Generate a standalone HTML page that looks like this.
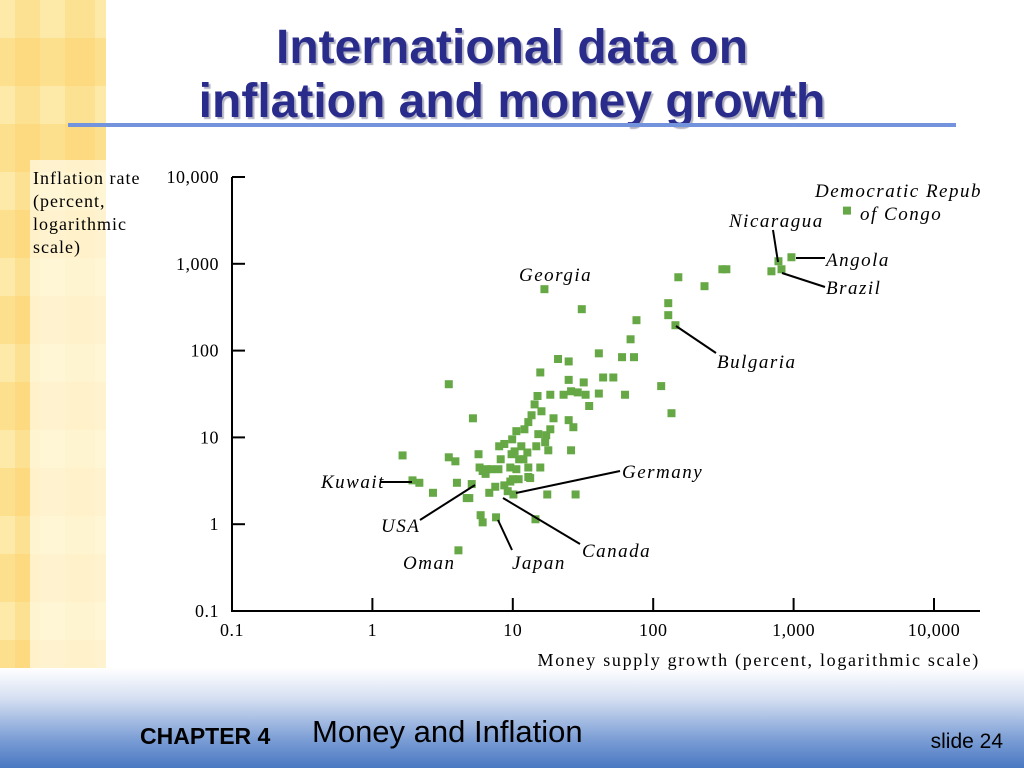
<!DOCTYPE html>
<html><head><meta charset="utf-8">
<style>
html,body{margin:0;padding:0;}
body{width:1024px;height:768px;position:relative;overflow:hidden;background:#fff;font-family:"Liberation Sans",sans-serif;}
.stripe{position:absolute;left:0;top:0;width:106px;height:768px;
background:
linear-gradient(90deg,rgba(255,255,255,0) 0,rgba(255,255,255,0) 15px,rgba(253,205,95,.3) 15px,rgba(253,205,95,.3) 40px,rgba(255,255,255,0) 40px,rgba(255,255,255,0) 65px,rgba(253,205,95,.3) 65px,rgba(253,205,95,.3) 95px,rgba(255,255,255,0) 95px),
repeating-linear-gradient(180deg,#fdeaa8 0,#fdeaa8 38px,#fde08e 38px,#fde08e 86px);}
.panel{position:absolute;left:30px;top:160px;width:76px;height:515px;background:rgba(255,250,228,.75);}
.title{position:absolute;left:0;width:1024px;text-align:center;color:#2a2c8c;font-weight:bold;font-size:48px;line-height:48px;text-shadow:2px 2px 1px #b0b0c0;}
.rule{position:absolute;left:68px;top:123px;width:888px;height:4px;background:#7394dc;}
.footer{position:absolute;left:0;top:668px;width:1024px;height:100px;background:linear-gradient(180deg,#ffffff 0,#d6e0f2 30%,#7a9dd5 72%,#4a78c2 100%);}
</style></head>
<body>
<div class="stripe"></div>
<div class="panel"></div>
<div class="title" style="top:24px">International data on</div>
<div class="title" style="top:78px">inflation and money growth</div>
<div class="rule"></div>
<div class="footer"></div>
<div style="position:absolute;left:140px;top:723px;font-weight:bold;font-size:23px;color:#000">CHAPTER 4</div>
<div style="position:absolute;left:312px;top:714px;font-size:31px;color:#000">Money and Inflation</div>
<div style="position:absolute;right:21px;top:730px;font-size:21px;color:#000">slide 24</div>

<svg id="chart" width="1024" height="768" style="position:absolute;left:0;top:0"
 font-family="'Liberation Serif',serif" font-size="18">
<g id="axes"></g>
<g id="pts"></g>
<g id="ann" stroke="#000" stroke-width="2" fill="none">
<line x1="773" y1="230" x2="778" y2="262"/>
<line x1="796" y1="258" x2="825" y2="258"/>
<line x1="782" y1="273" x2="825" y2="287"/>
<line x1="676" y1="326" x2="716" y2="353"/>
<line x1="516" y1="493" x2="620" y2="471"/>
<line x1="380" y1="482" x2="412" y2="482"/>
<line x1="420" y1="520" x2="475" y2="485"/>
<line x1="498" y1="520" x2="512" y2="550"/>
<line x1="503" y1="498" x2="580" y2="544"/>
</g>
<g font-style="italic" font-size="19" letter-spacing="1.5" fill="#000">
<text x="815" y="197">Democratic Repub</text>
<text x="860" y="220">of Congo</text>
<text x="729" y="227">Nicaragua</text>
<text x="826" y="266">Angola</text>
<text x="826" y="294">Brazil</text>
<text x="519" y="281">Georgia</text>
<text x="717" y="368">Bulgaria</text>
<text x="622" y="478">Germany</text>
<text x="321" y="488">Kuwait</text>
<text x="381" y="532">USA</text>
<text x="403" y="569">Oman</text>
<text x="512" y="569">Japan</text>
<text x="582" y="557">Canada</text>
</g>
<g fill="#000" font-size="18" letter-spacing="1">
<text x="33" y="184">Inflation rate</text>
<text x="33" y="207">(percent,</text>
<text x="33" y="230">logarithmic</text>
<text x="33" y="253">scale)</text>
<text x="980" y="666" text-anchor="end" letter-spacing="1.7">Money supply growth (percent, logarithmic scale)</text>
</g>
</svg>
<script>
const xTicks=[0.1,1,10,100,1000,10000];
const xTickLabels=["0.1","1","10","100","1,000","10,000"];
const yTicks=[0.1,1,10,100,1000,10000];
const yTickLabels=["0.1","1","10","100","1,000","10,000"];
const moneyGrowth=[2400,780,965,695,820,311,332,151,232,16.8,31,128,128,76,144,69,41,60,73,21,25,15.7,44,52,25,32,3.5,114,26,29,18.5,23,33,41,63,15,14.3,35,16,135,5.2,13.6,19.5,25,12.9,12.1,18.5,27,10.6,15.2,17.3,17,8.7,9.9,8.0,14.7,11.5,10.3,17.9,26,1.64,5.7,9.8,12.7,3.5,3.9,5.8,12.9,15.7,8.2,11.1,11.9,9.6,10.6,7.0,6.5,7.9,6.1,6.4,1.93,2.16,4.0,5.1,12.9,11,9.6,8.7,7.5,2.7,4.7,4.9,6.8,9.2,10.1,10,13.3,17.6,28,5.9,6.1,7.6,14.5,4.1];
const inflation=[4100,1070,1190,820,865,865,865,700,552,510,300,352,256,224,196,135,93,84,84,80,75,56,49,49,46,43,41,39,34,33,31,31,31,32,31,30,24,23,20,19,16.6,18,16.6,15.8,15,12.4,12.4,13.1,11.8,10.9,10.6,8.8,8.4,9.5,7.9,7.9,7.9,6.9,7.1,7.1,6.2,6.4,6.4,6.7,5.9,5.3,4.5,4.5,4.5,5.6,5.6,5.6,4.5,4.3,4.3,4.3,4.3,4.1,3.8,3.2,3.0,3.0,2.9,3.5,3.3,3.1,2.8,2.7,2.3,2.0,2.0,2.3,2.4,2.2,3.3,3.4,2.2,2.2,1.27,1.05,1.2,1.14,0.50];
const X0=232,XD=140.4,Y0=611,YD=86.8;
function xs(v){return X0+(Math.log10(v)+1)*XD;}
function ys(v){return Y0-(Math.log10(v)+1)*YD;}
const NS="http://www.w3.org/2000/svg";
const ax=document.getElementById('axes');
function mk(tag,attrs,parent){const e=document.createElementNS(NS,tag);for(const k in attrs)e.setAttribute(k,attrs[k]);parent.appendChild(e);return e;}
let yl=mk('line',{x1:X0,y1:ys(10000),x2:X0,y2:Y0,stroke:'#000','stroke-width':2},ax);


let xl=mk('line',{x1:X0-1,y1:Y0,x2:980,y2:Y0,stroke:'#000','stroke-width':2},ax);


yTicks.forEach((v,i)=>{
  const y=ys(v);
  if(i>0){const t=mk('line',{x1:X0,y1:y,x2:X0+13,y2:y,stroke:'#000','stroke-width':2},ax);
  
  }
  const tx=mk('text',{x:219,y:y+6,'text-anchor':'end','letter-spacing':'0.5'},ax);
  tx.textContent=yTickLabels[i];
  
  
});
xTicks.forEach((v,i)=>{
  const x=xs(v);
  if(i>0){const t=mk('line',{x1:x,y1:Y0,x2:x,y2:Y0-13,stroke:'#000','stroke-width':2},ax);
  
  }
  const tx=mk('text',{x:x,y:636,'text-anchor':'middle','letter-spacing':'0.5'},ax);
  tx.textContent=xTickLabels[i];
  
  
});
const pg=document.getElementById('pts');
moneyGrowth.forEach((m,i)=>{
  const r=mk('rect',{x:xs(m)-4,y:ys(inflation[i])-4,width:8,height:8,fill:'#65a845'},pg);
  
  
});
</script>
</body></html>
